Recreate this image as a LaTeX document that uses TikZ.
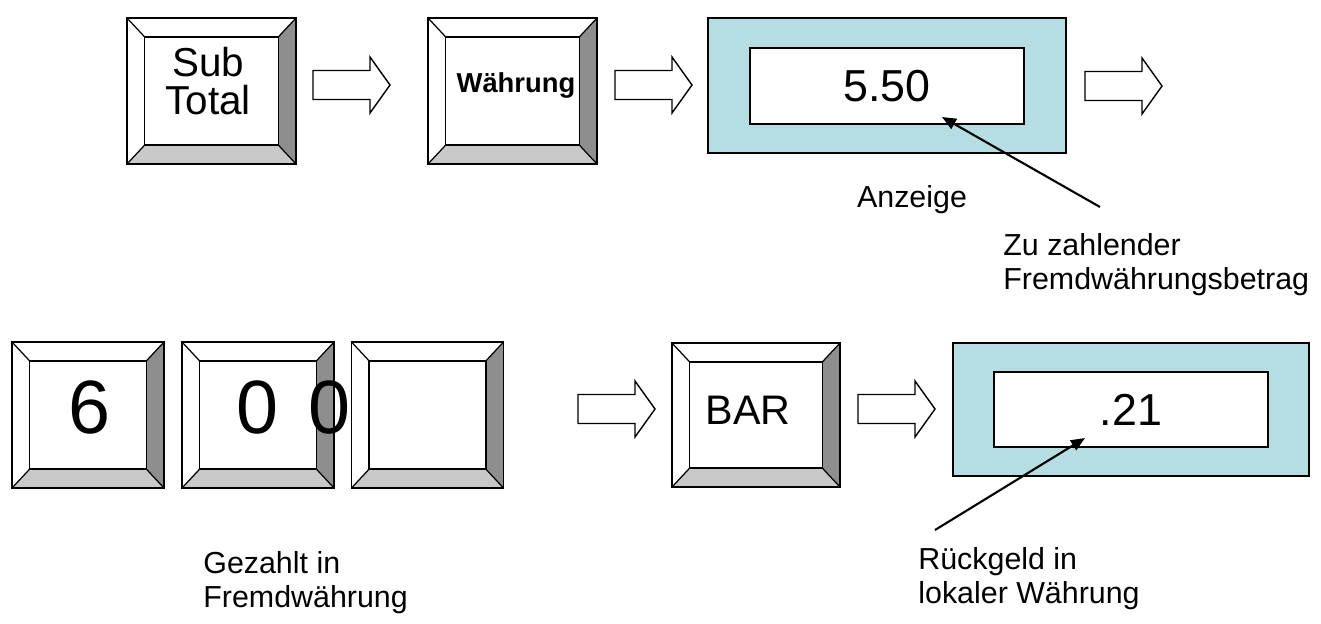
\documentclass[tikz,border=0pt]{standalone}
\usepackage{fontspec}
\setmainfont{Liberation Sans}
\usetikzlibrary{arrows.meta}
\definecolor{lcdteal}{HTML}{B6DEE2}
\definecolor{bevdark}{HTML}{8E8E8E}
\definecolor{bevlight}{HTML}{C8C8C8}

% beveled key: name, centre, outer width, outer height
\newcommand{\keycap}[4]{%
  \node[keyout, minimum width=#3, minimum height=#4] (#1) at (#2) {};
  \node[keyin, minimum width=#3-0.7cm, minimum height=#4-0.75cm] (#1i) at (#1) {};
  \fill[bevdark] (#1.north east) -- (#1i.north east) -- (#1i.south east) -- (#1.south east) -- cycle;
  \fill[bevlight] (#1.south west) -- (#1i.south west) -- (#1i.south east) -- (#1.south east) -- cycle;
  \draw[bevline] (#1.north west) -- (#1i.north west) (#1.north east) -- (#1i.north east)
                 (#1.south west) -- (#1i.south west) (#1.south east) -- (#1i.south east);
  \draw[keyline] (#1i.south west) rectangle (#1i.north east);
  \draw[keyline] (#1.south west) rectangle (#1.north east);
}
% hollow block arrow, left end centre given
\newcommand{\blockarr}[1]{%
  \draw[barr] (#1) ++(0,-14.5) -- ++(57,0) -- ++(0,-13.5) -- ++(20,28)
              -- ++(-20,28) -- ++(0,-13.5) -- ++(-57,0) -- cycle;
}

\begin{document}
\begin{tikzpicture}[
  x=0.02cm, y=-0.02cm,
  keyout/.style={fill=white, inner sep=0pt, outer sep=0pt},
  keyin/.style={inner sep=0pt, outer sep=0pt},
  keyline/.style={line width=1.1pt},
  bevline/.style={line width=0.7pt},
  lcdout/.style={draw, line width=1.1pt, fill=lcdteal, inner sep=0pt, outer sep=0pt},
  lcdin/.style={draw, line width=1.1pt, fill=white, inner sep=0pt, outer sep=0pt,
                font=\fontsize{25.5}{28}\selectfont},
  keytext/.style={align=center, inner sep=0pt},
  lbl/.style={align=left, inner sep=0pt, font=\fontsize{17.3}{19.5}\selectfont},
  barr/.style={draw, line width=0.8pt, fill=white},
  ptr/.style={-{Triangle[length=8pt, width=6.5pt]}, line width=1.2pt}
]
\useasboundingbox (0,0) rectangle (1321,623);

% first row
\keycap{subt}{211.5,91}{3.38cm}{2.92cm}
\node[keytext, font=\fontsize{23}{21.5}\selectfont] (subtl) at (208,81) {Sub\\Total};
\blockarr{313,85}
\keycap{wae}{512.5,91}{3.38cm}{2.92cm}
\node[keytext, font=\bfseries\fontsize{15.6}{18}\selectfont] (wael) at (516,85) {Währung};
\blockarr{615,85}
\node[lcdout, minimum width=7.16cm, minimum height=2.7cm] (disp1) at (887,85.5) {};
\node[lcdin, minimum width=5.48cm, minimum height=1.52cm] (disp1i) at (887,86) {5.50};
\blockarr{1085,86}

\node[lbl, anchor=base] (anz) at (912,207) {Anzeige};
\node[lbl, anchor=north west] (zuz) at (1003,233) {Zu zahlender\\Fremdwährungsbetrag};
\coordinate (zuzt) at (1100,207);
\coordinate (disp1p) at (942,117);
\draw[ptr] (zuzt) -- (disp1p);

% second row
\keycap{k6}{88,415}{3.04cm}{2.92cm}
\keycap{k0}{258,415}{3.04cm}{2.92cm}
\keycap{k00}{427.5,415}{3.04cm}{2.92cm}
\node[keytext, font=\fontsize{43}{46}\selectfont] (sechs) at (90,407) {6};
\node[keytext, font=\fontsize{43}{46}\selectfont] (nullen) at (293.5,407) {0\hspace{0.6cm}0};
\blockarr{578,409}
\keycap{bar}{756,415}{3.36cm}{2.88cm}
\node[keytext, font=\fontsize{23.5}{26}\selectfont] (barl) at (748,410) {BAR};
\blockarr{858,409}
\node[lcdout, minimum width=7.12cm, minimum height=2.66cm] (disp2) at (1131,409.5) {};
\node[lcdin, minimum width=5.48cm, minimum height=1.5cm] (disp2i) at (1131,409.5) {.21};

\node[lbl, anchor=north west] (gez) at (203,551) {Gezahlt in\\Fremdwährung};
\node[lbl, anchor=north west] (rue) at (918,547) {Rückgeld in\\lokaler Währung};
\coordinate (ruet) at (935,530);
\coordinate (disp2p) at (1085,438);
\draw[ptr] (ruet) -- (disp2p);
\end{tikzpicture}
\end{document}
